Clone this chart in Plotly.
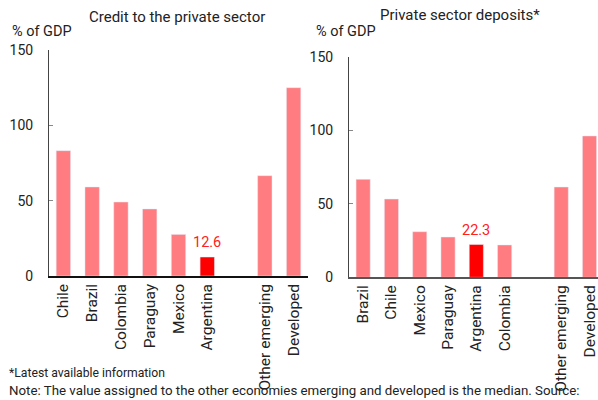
import plotly.graph_objects as go

W, H = 598, 400

# Left panel: Credit to the private sector
credit_cats = ["Chile", "Brazil", "Colombia", "Paraguay", "Mexico", "Argentina", " ", "Other emerging", "Developed"]
credit_vals = [83.2, 59.1, 49.1, 44.5, 27.6, 12.6, None, 66.6, 125.0]

# Right panel: Private sector deposits
dep_cats = ["Brazil", "Chile", "Mexico", "Paraguay", "Argentina", "Colombia", " ", "Other emerging", "Developed"]
dep_vals = [66.6, 53.2, 31.0, 27.4, 22.3, 22.0, None, 61.4, 96.1]

PINK = "#FF7C80"
RED = "#FF0000"
FONT = "Roboto"

def colors(cats):
    return [RED if c == "Argentina" else PINK for c in cats]

fig = go.Figure()
fig.add_trace(go.Bar(x=credit_cats, y=credit_vals, marker_color=colors(credit_cats),
                     width=0.5, xaxis="x", yaxis="y", showlegend=False))
fig.add_trace(go.Bar(x=dep_cats, y=dep_vals, marker_color=colors(dep_cats),
                     width=0.5, xaxis="x2", yaxis="y2", showlegend=False))

def px_x(p):
    return p / W

def px_y(p):
    return 1 - p / H

xtick_font = dict(family=FONT, size=15.5, color="#222")
ytick_font = dict(family=FONT, size=14, color="#222")

fig.update_layout(
    width=W, height=H,
    margin=dict(l=0, r=0, t=0, b=0),
    plot_bgcolor="white", paper_bgcolor="white",
    bargap=0.5,
    font=dict(family=FONT, color="#222"),
    xaxis=dict(domain=[px_x(49), px_x(308)], anchor="y", type="category",
               categoryorder="array", categoryarray=credit_cats,
               range=[-0.5, 8.5], tickangle=-90, showline=True, linecolor="#111",
               linewidth=1.5, ticks="", showgrid=False, automargin=False,
               tickfont=xtick_font),
    yaxis=dict(domain=[px_y(276), px_y(50)], anchor="x", range=[0, 150],
               tickvals=[0, 50, 100, 150], showline=True, linecolor="#444",
               linewidth=1, ticks="inside", ticklen=4, tickcolor="#888",
               showgrid=False, zeroline=False, automargin=False,
               ticklabelstandoff=12, tickfont=ytick_font),
    xaxis2=dict(domain=[px_x(349), 1.0], anchor="y2", type="category",
                categoryorder="array", categoryarray=dep_cats,
                range=[-0.5, 8.3], tickangle=-90, showline=True, linecolor="#555",
                linewidth=1.5, ticks="", showgrid=False, automargin=False,
                tickfont=xtick_font),
    yaxis2=dict(domain=[px_y(277.3), px_y(56.7)], anchor="x2", range=[0, 150],
                tickvals=[0, 50, 100, 150], showline=True, linecolor="#444",
                linewidth=1, ticks="inside", ticklen=4, tickcolor="#888",
                showgrid=False, zeroline=False, automargin=False,
                ticklabelstandoff=12, tickfont=ytick_font),
)

annotations = []
# Titles
annotations.append(dict(text="Credit to the private sector", x=px_x(177), y=px_y(17),
                        xref="paper", yref="paper", showarrow=False,
                        xanchor="center", yanchor="middle",
                        font=dict(family=FONT, size=15, color="#222")))
annotations.append(dict(text="% of GDP", x=px_x(10), y=px_y(32),
                        xref="paper", yref="paper", showarrow=False,
                        xanchor="left", yanchor="middle",
                        font=dict(family=FONT, size=14.5, color="#222")))
annotations.append(dict(text="Private sector deposits*", x=px_x(460), y=px_y(15),
                        xref="paper", yref="paper", showarrow=False,
                        xanchor="center", yanchor="middle",
                        font=dict(family=FONT, size=15, color="#222")))
annotations.append(dict(text="% of GDP", x=px_x(314), y=px_y(31),
                        xref="paper", yref="paper", showarrow=False,
                        xanchor="left", yanchor="middle",
                        font=dict(family=FONT, size=14.5, color="#222")))
# Value labels for Argentina
ia = credit_cats.index("Argentina")
annotations.append(dict(text=f"{credit_vals[ia]}", x="Argentina", y=credit_vals[ia],
                        xref="x", yref="y", showarrow=False, yanchor="bottom", yshift=4,
                        font=dict(family=FONT, size=14.5, color="#FF2020")))
ib = dep_cats.index("Argentina")
annotations.append(dict(text=f"{dep_vals[ib]}", x="Argentina", y=dep_vals[ib],
                        xref="x2", yref="y2", showarrow=False, yanchor="bottom", yshift=4,
                        font=dict(family=FONT, size=14.5, color="#FF2020")))
# Footnotes
annotations.append(dict(text="*Latest available information", x=px_x(7), y=px_y(373),
                        xref="paper", yref="paper", showarrow=False,
                        xanchor="left", yanchor="middle",
                        font=dict(family=FONT, size=12.2, color="#222")))
annotations.append(dict(text="Note: The value assigned to the other economies emerging and developed is the median. Source:",
                        x=px_x(7), y=px_y(390),
                        xref="paper", yref="paper", showarrow=False,
                        xanchor="left", yanchor="middle",
                        font=dict(family=FONT, size=13.3, color="#222")))

fig.update_layout(annotations=annotations)

fig.write_html("out.html")
